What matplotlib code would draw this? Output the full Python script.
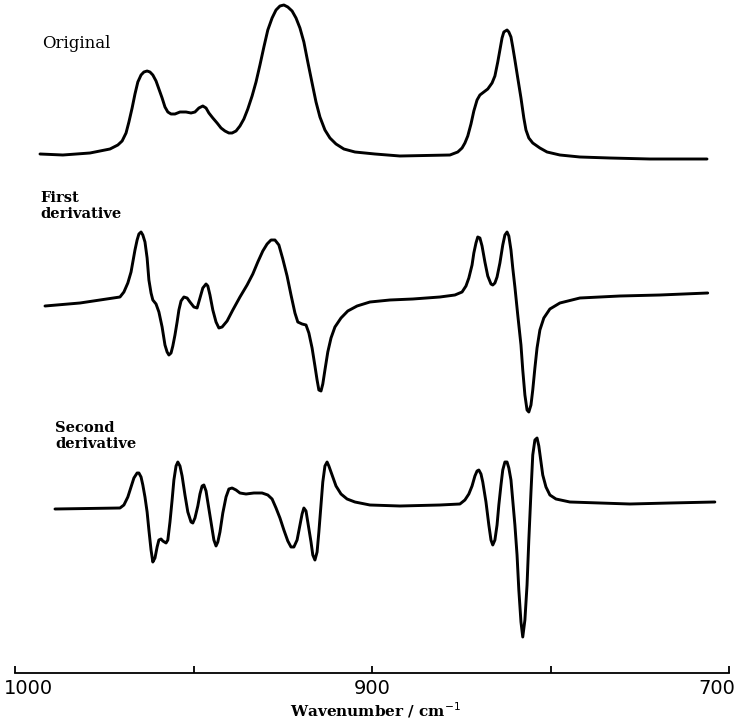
import matplotlib
matplotlib.use("Agg")
import matplotlib.pyplot as plt
import matplotlib.transforms as mtransforms
import numpy as np

# wavenumbers (cm-1) and intensities (arbitrary units)
orig_wn = [993.0, 986.6, 979.0, 973.4, 971.2, 970.0, 968.9, 968.1, 967.2, 966.4,
           965.6, 964.7, 963.9, 963.0, 962.2, 961.4, 960.5, 959.7, 958.8, 958.0,
           957.2, 956.3, 955.2, 953.8, 952.1, 950.7, 949.6, 948.5, 947.4, 946.5,
           945.7, 944.6, 943.4, 942.3, 941.2, 940.1, 939.2, 938.1, 937.0, 935.9,
           934.8, 933.6, 932.5, 931.4, 930.3, 929.2, 928.0, 926.9, 925.8, 924.7,
           923.6, 922.4, 921.3, 920.2, 919.1, 918.0, 916.8, 915.7, 914.6, 913.2,
           911.8, 910.1, 907.9, 904.8, 899.2, 892.2, 878.2, 876.0, 874.8, 874.0,
           873.2, 872.3, 871.5, 870.6, 869.8, 868.7, 867.6, 866.4, 865.6, 864.8,
           864.2, 863.6, 863.1, 862.2, 861.7, 861.1, 860.6, 860.0, 859.2, 858.3,
           857.5, 856.9, 856.1, 855.0, 853.0, 851.0, 847.4, 841.8, 833.4, 822.2,
           806.2]
orig_int = [1, 0, 2, 6, 10, 14, 22, 33, 47, 61,
            73, 80, 83, 84, 83, 80, 74, 66, 57, 48,
            43, 41, 41, 43, 43, 42, 43, 47, 49, 47,
            42, 37, 32, 27, 24, 22, 22, 24, 29, 36,
            46, 59, 73, 90, 108, 125, 137, 145, 149, 150,
            148, 144, 137, 127, 113, 93, 72, 53, 38, 25,
            17, 11, 6, 3, 1, -1, 0, 3, 7, 12,
            19, 31, 44, 55, 60, 63, 66, 72, 79, 93,
            105, 117, 123, 125, 123, 118, 108, 95, 77, 57,
            37, 25, 17, 12, 7, 3, 0, -2, -3, -4,
            -4]

first_wn = [991.6, 981.8, 970.6, 969.5, 968.4, 967.5, 967.0, 966.4, 965.8, 965.3,
            964.7, 964.2, 963.6, 963.0, 962.5, 961.9, 961.4, 960.5, 959.7, 958.8,
            958.0, 957.4, 956.9, 956.3, 955.8, 955.2, 954.6, 954.1, 953.5, 952.7,
            951.8, 951.0, 949.9, 949.0, 948.2, 947.4, 946.5, 946.0, 945.4, 944.6,
            943.7, 942.9, 942.0, 940.6, 939.0, 937.0, 935.0, 933.4, 932.0, 930.6,
            929.4, 928.3, 927.2, 926.1, 925.0, 923.8, 922.7, 921.6, 920.8, 919.6,
            918.5, 917.7, 916.8, 916.0, 915.4, 914.9, 914.3, 913.8, 913.2, 912.4,
            911.5, 910.4, 908.7, 906.8, 904.2, 900.6, 895.0, 888.6, 881.0, 876.8,
            874.8, 873.7, 872.9, 872.0, 871.5, 870.9, 870.4, 869.8, 869.2, 868.4,
            867.6, 866.7, 866.2, 865.6, 865.0, 864.2, 863.4, 862.8, 862.2, 861.7,
            861.1, 860.6, 860.0, 859.2, 858.3, 857.8, 857.2, 856.6, 856.1, 855.5,
            855.0, 854.4, 853.8, 853.0, 851.9, 850.2, 847.4, 841.8, 830.6, 819.4,
            806.0]
first_int = [-6, -3, 3, 8, 17, 28, 38, 50, 60, 66,
             68, 65, 58, 42, 20, 7, 0, -4, -12, -27,
             -45, -52, -55, -53, -46, -35, -22, -10, -1, 3,
             2, -2, -7, -8, 2, 12, 16, 14, 5, -10,
             -22, -28, -27, -21, -10, 3, 15, 26, 38, 49,
             56, 60, 60, 55, 41, 24, 5, -13, -22, -24,
             -25, -33, -48, -66, -80, -90, -91, -84, -70, -52,
             -38, -27, -18, -11, -6, -2, 0, 1, 3, 5,
             8, 14, 22, 35, 47, 57, 63, 62, 54, 38,
             24, 16, 15, 17, 23, 37, 55, 65, 68, 64,
             50, 32, 13, -15, -45, -70, -95, -110, -112, -105,
             -90, -68, -48, -30, -18, -9, -3, 2, 4, 5,
             7]

second_wn = [988.8, 970.6, 969.5, 968.4, 967.5, 966.7, 965.8, 965.3, 964.7, 964.2,
             963.6, 963.0, 962.5, 961.9, 961.4, 960.8, 960.2, 959.7, 959.1, 958.6,
             957.7, 957.2, 956.6, 956.0, 955.5, 954.9, 954.4, 953.8, 953.2, 952.4,
             951.6, 950.7, 950.2, 949.6, 948.8, 948.2, 947.6, 947.1, 946.5, 946.0,
             945.1, 944.3, 943.7, 943.2, 942.6, 941.8, 940.9, 940.1, 939.2, 938.1,
             937.0, 935.3, 933.1, 930.8, 929.2, 928.0, 926.9, 925.8, 924.7, 923.6,
             922.7, 921.9, 921.0, 920.2, 919.6, 919.1, 918.5, 918.0, 917.1, 916.6,
             916.0, 915.4, 914.9, 914.3, 913.8, 913.2, 912.6, 912.1, 911.2, 910.1,
             908.7, 907.0, 904.8, 900.6, 892.2, 881.0, 875.4, 874.0, 872.9, 872.0,
             871.2, 870.6, 870.1, 869.5, 869.0, 868.1, 867.3, 866.7, 866.2, 865.6,
             865.0, 864.5, 863.9, 863.4, 862.8, 862.2, 861.7, 861.1, 860.6, 860.0,
             859.4, 858.9, 858.3, 857.8, 857.2, 856.6, 856.1, 855.5, 855.0, 854.4,
             853.8, 853.3, 852.7, 852.2, 851.3, 850.2, 848.5, 844.6, 836.2, 827.8,
             816.6, 804.0]
second_int = [-1, 0, 3, 11, 21, 30, 35, 35, 31, 23,
              11, -4, -22, -42, -54, -50, -39, -32, -31, -33,
              -35, -32, -14, 8, 28, 42, 46, 42, 32, 13,
              -4, -14, -15, -10, 2, 14, 22, 23, 17, 6,
              -14, -32, -38, -34, -24, -5, 11, 19, 20, 18,
              15, 14, 15, 15, 13, 9, 0, -10, -22, -33,
              -39, -39, -32, -17, -6, 0, -3, -14, -34, -47,
              -52, -44, -24, 3, 26, 42, 46, 42, 33, 22,
              14, 9, 6, 3, 2, 3, 4, 8, 14, 22,
              32, 37, 38, 34, 26, 6, -17, -32, -37, -32,
              -17, 3, 23, 38, 46, 46, 40, 28, 8, -17,
              -47, -82, -114, -129, -112, -77, -32, 16, 53, 68,
              70, 62, 46, 33, 21, 13, 9, 6, 5, 4,
              5, 6]

tick_pos = [1000, 950, 900, 850, 800]
tick_txt = ["1000", "", "900", "", "700"]

W, H = 737, 724
fig = plt.figure(figsize=(W / 100, H / 100), dpi=100)
ax = fig.add_axes([0, 1 - 673 / H, 1, 673 / H])

style = dict(color="black", lw=2.1, solid_joinstyle="round", solid_capstyle="round")
ax.plot(orig_wn, np.array(orig_int), **style)
ax.plot(first_wn, np.array(first_int) - 145, **style)
ax.plot(second_wn, np.array(second_int) - 353, **style)

ax.set_xlim(1004.2, 797.8)
ax.set_ylim(-518, 155)
for s in ["top", "left", "right"]:
    ax.spines[s].set_visible(False)
ax.spines["bottom"].set_bounds(1000, 800)
ax.spines["bottom"].set_linewidth(1.3)
ax.set_yticks([])
ax.set_xticks(tick_pos)
ax.set_xticklabels(tick_txt, fontsize=14, family="DejaVu Sans")
ax.tick_params(axis="x", direction="in", length=5, width=1.3, pad=4)

labels = ax.get_xticklabels()
labels[0].set_ha("left")
labels[0].set_transform(labels[0].get_transform() +
                        mtransforms.ScaledTranslation(-0.11, 0, fig.dpi_scale_trans))
labels[-1].set_ha("right")
labels[-1].set_transform(labels[-1].get_transform() +
                         mtransforms.ScaledTranslation(0.06, 0, fig.dpi_scale_trans))

ax.set_xlabel("Wavenumber / cm$^{-1}$", fontsize=11, family="DejaVu Serif",
              fontweight="bold")
ax.xaxis.set_label_coords(375 / W, -(710 - 673) / 673, transform=ax.transAxes)
ax.xaxis.label.set_va("center")

fig.text(42 / W, 1 - 43 / H, "Original", fontsize=12, family="DejaVu Serif",
         va="center", ha="left")
fig.text(40 / W, 1 - 206 / H, "First\nderivative", fontsize=10.5, family="DejaVu Serif",
         fontweight="bold", va="center", ha="left", linespacing=1.2)
fig.text(55 / W, 1 - 436 / H, "Second\nderivative", fontsize=10.5, family="DejaVu Serif",
         fontweight="bold", va="center", ha="left", linespacing=1.2)

fig.savefig("out.png", dpi=100)
